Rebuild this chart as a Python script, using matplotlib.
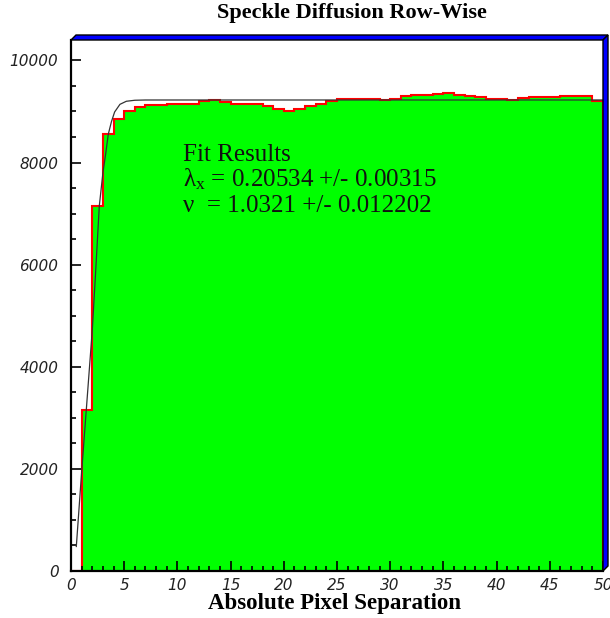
import numpy as np
import matplotlib
matplotlib.use('Agg')
import matplotlib.pyplot as plt
from matplotlib.patches import Polygon
from matplotlib.ticker import MultipleLocator

# histogram: counts per unit bin, 0..50
bin_edges = np.arange(0, 51)
counts = [0, 3150, 7150, 8550, 8860, 9010, 9090, 9120, 9120, 9150,
          9150, 9150, 9200, 9220, 9185, 9150, 9150, 9150, 9105, 9050,
          9010, 9050, 9100, 9150, 9210, 9235, 9250, 9250, 9250, 9225,
          9235, 9295, 9330, 9320, 9335, 9355, 9330, 9300, 9275, 9245,
          9245, 9230, 9255, 9290, 9290, 9290, 9300, 9300, 9295, 9215]

# fit curve
fit_x = [0.5, 1.0, 1.5, 2.0, 2.3, 2.66, 3.0, 3.26, 3.5, 3.8, 4.1, 4.6, 5.2, 6.0, 7.0, 50]
fit_y = [480, 1940, 3330, 4720, 5800, 7150, 7800, 8170, 8550, 8800, 8990, 9140, 9200, 9220, 9225, 9225]

fit_lines = ['Fit Results',
             r'$\mathregular{λ_x}$ = 0.20534 +/- 0.00315',
             'ν  = 1.0321 +/- 0.012202']

W, H = 610, 618
fig = plt.figure(figsize=(W / 100, H / 100), dpi=100)
L, R, T, B = 71, 603, 40, 571
ax = fig.add_axes([L / W, 1 - B / H, (R - L) / W, (B - T) / H])

ax.stairs(counts, bin_edges, fill=True, color='#00ff00', baseline=0)
ax.stairs(counts, bin_edges, color='#ff0000', linewidth=1.5, baseline=0)
ax.plot(fit_x, fit_y, color='#333333', linewidth=0.9)

ax.set_xlim(0, 50)
ax.set_ylim(0, 10400)

for s in ['top', 'right']:
    ax.spines[s].set_visible(False)
ax.spines['left'].set_linewidth(1.6)
ax.spines['bottom'].set_linewidth(1.6)

ax.xaxis.set_major_locator(MultipleLocator(5))
ax.xaxis.set_minor_locator(MultipleLocator(1))
ax.yaxis.set_major_locator(MultipleLocator(2000))
ax.yaxis.set_minor_locator(MultipleLocator(500))
ax.tick_params(which='both', direction='in', top=False, right=False, width=1.2,
               labelsize=11, labelcolor='#222222')
ax.tick_params(which='major', length=7)
ax.tick_params(which='minor', length=3.5)
ax.tick_params(axis='y', pad=9)
ax.tick_params(axis='x', pad=5)
for lab in ax.get_xticklabels() + ax.get_yticklabels():
    lab.set_fontstyle('italic')

# blue 3D frame along top and right
d = 5
top = [(L, T), (L + d, T - d), (R + d, T - d), (R, T)]
right = [(R, T), (R + d, T - d), (R + d, B - d), (R, B)]
for poly in [top, right]:
    pts = [(x / W, 1 - y / H) for x, y in poly]
    fig.add_artist(Polygon(pts, closed=True, transform=fig.transFigure,
                           facecolor='#0000ff', edgecolor='black', linewidth=1.0))

fig.text(352 / W, 1 - 13 / H, 'Speckle Diffusion Row-Wise', ha='center', va='center',
         family='Liberation Serif', fontweight='bold', fontsize=16)
fig.text(334 / W, 1 - 603 / H, 'Absolute Pixel Separation', ha='center', va='center',
         family='Liberation Serif', fontweight='bold', fontsize=16.5)

for i, line in enumerate(fit_lines):
    fig.text(183 / W, 1 - (161 + 25.5 * i) / H, line, ha='left', va='baseline',
             family='Liberation Serif', fontsize=18, color='#111111')

fig.savefig('out.png', dpi=100)
